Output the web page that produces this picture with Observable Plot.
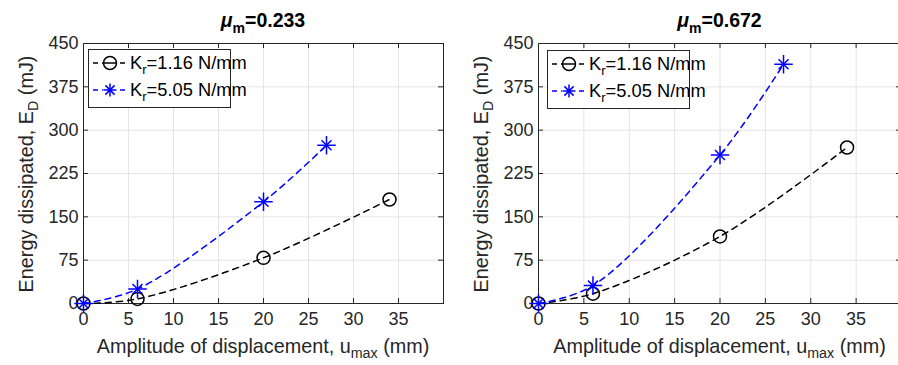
<!DOCTYPE html>
<html>
<head>
<meta charset="utf-8">
<script src="https://cdn.jsdelivr.net/npm/d3@7"></script>
<script src="https://cdn.jsdelivr.net/npm/@observablehq/plot@0.6"></script>
<style>
  html, body { margin: 0; padding: 0; background: #fff; overflow: hidden; }
  #root { position: relative; width: 898px; height: 365px; overflow: hidden; font-family: "Liberation Sans", Arial, sans-serif; color: #262626; }
  .panel { position: absolute; top: 0; height: 365px; }
  .panel svg { position: absolute; left: 0; top: 0; overflow: visible; }
  .title { position: absolute; top: 9px; font-weight: bold; font-size: 19.5px; color: #000; white-space: nowrap; transform: translateX(-50%); }
  .title sub { top: 0.45em; }
  .xlabel { position: absolute; top: 335px; font-size: 19.8px; color: #262626; white-space: nowrap; transform: translateX(-50%); }
  .ylabel { position: absolute; font-size: 19.8px; color: #262626; white-space: nowrap; transform: translate(-50%, -50%) rotate(-90deg); }
  sub { font-size: 0.72em; position: relative; top: 0.35em; vertical-align: baseline; }
  .legend { position: absolute; background: #fff; border: 1px solid #262626; font-size: 18.3px; color: #000; box-sizing: border-box; }
  .legend .row { position: absolute; left: 3px; height: 24px; display: flex; align-items: center; white-space: nowrap; }
  .legend svg { position: static; margin-right: 2px; }
</style>
</head>
<body>
<div id="root"></div>
<script>
// ---- data ----
const xBlack = [0, 6, 20, 34];          // amplitude (mm), Kr = 1.16 N/mm
const xBlue = [0, 6, 20, 27];           // amplitude (mm), Kr = 5.05 N/mm
const leftBlack = [0, 8, 79, 180];      // mu_m = 0.233, Kr = 1.16
const leftBlue = [0, 25, 176, 274];     // mu_m = 0.233, Kr = 5.05
const rightBlack = [0, 17, 116, 270];   // mu_m = 0.672, Kr = 1.16
const rightBlue = [0, 31, 257, 414];    // mu_m = 0.672, Kr = 5.05
const xTicks = [0, 5, 10, 15, 20, 25, 30, 35];
const yTicks = [0, 75, 150, 225, 300, 375, 450];
const titles = ["0.233", "0.672"];
const legendLabels = ["1.16 N/mm", "5.05 N/mm"];

const BLACK = "#000000", BLUE = "#0000ff", AX = "#262626", GRID = "#e4e4e4";

function makePlot(blackY, blueY, width, marginRight) {
  const black = xBlack.map((x, i) => ({x, y: blackY[i]}));
  const blue = xBlue.map((x, i) => ({x, y: blueY[i]}));
  const H = 365, mt = 43, mb = 62, ml = 83;
  const ih = H - mt - mb, iw = width - ml - marginRight;
  return Plot.plot({
    width, height: H,
    marginTop: mt, marginBottom: mb, marginLeft: ml, marginRight,
    style: {fontFamily: "Liberation Sans, Arial, sans-serif", fontSize: "18px", color: AX, background: "transparent", overflow: "visible"},
    x: {domain: [0, 40]},
    y: {domain: [0, 450]},
    marks: [
      Plot.ruleX(xTicks.filter(d => d > 0), {stroke: GRID, strokeWidth: 1}),
      Plot.ruleY(yTicks.filter(d => d > 0), {stroke: GRID, strokeWidth: 1}),
      Plot.tickX(xTicks, {x: d => d, insetTop: ih - 5, stroke: AX}),
      Plot.tickX(xTicks, {x: d => d, insetBottom: ih - 5, stroke: AX}),
      Plot.tickY(yTicks, {y: d => d, insetRight: iw - 5, stroke: AX}),
      Plot.tickY(yTicks, {y: d => d, insetLeft: iw - 5, stroke: AX}),
      Plot.frame({stroke: AX, strokeWidth: 1}),
      Plot.axisX(xTicks, {tickSize: 0, tickPadding: 9, fill: AX, label: null, fontSize: 18}),
      Plot.axisY(yTicks, {tickSize: 0, tickPadding: 5, fill: AX, label: null, fontSize: 18}),
      Plot.line(black, {x: "x", y: "y", stroke: BLACK, strokeWidth: 1.5, strokeDasharray: "6,5", curve: "catmull-rom"}),
      Plot.dot(black, {x: "x", y: "y", r: 6.5, stroke: BLACK, strokeWidth: 1.5, fill: "none"}),
      Plot.line(blue, {x: "x", y: "y", stroke: BLUE, strokeWidth: 1.5, strokeDasharray: "6,5", curve: "catmull-rom"}),
      Plot.dot(blue, {x: "x", y: "y", r: 6, symbol: "plus", stroke: BLUE, strokeWidth: 1.5}),
      Plot.dot(blue, {x: "x", y: "y", r: 4.6, symbol: "times", stroke: BLUE, strokeWidth: 1.5})
    ]
  });
}

function legendSwatch(color, kind) {
  const ns = "http://www.w3.org/2000/svg";
  const s = document.createElementNS(ns, "svg");
  s.setAttribute("width", 36); s.setAttribute("height", 20);
  let html = `<line x1="1" x2="35" y1="10" y2="10" stroke="${color}" stroke-width="1.5" stroke-dasharray="5,4"/>`;
  html += `<rect x="11" y="2" width="14" height="16" fill="#fff"/>`;
  if (kind === "circle") {
    html += `<circle cx="18" cy="10" r="6.5" fill="none" stroke="${color}" stroke-width="1.5"/>`;
    html += `<line x1="11" x2="25" y1="10" y2="10" stroke="${color}" stroke-width="1.5"/>`;
  } else {
    html += `<path d="M18,3.5V16.5M11.5,10H24.5M13.4,5.4L22.6,14.6M22.6,5.4L13.4,14.6" stroke="${color}" stroke-width="1.5"/>`;
  }
  s.innerHTML = html;
  return s;
}

const root = document.getElementById("root");
const panels = [
  {ox: 0, width: 449, mr: 6, black: leftBlack, blue: leftBlue, legendLeft: 88, legendTop: 49},
  {ox: 455, width: 460, mr: 14, black: rightBlack, blue: rightBlue, legendLeft: 92, legendTop: 50}
];
panels.forEach((p, i) => {
  const div = document.createElement("div");
  div.className = "panel";
  div.style.left = p.ox + "px";
  div.style.width = p.width + "px";
  root.appendChild(div);
  div.appendChild(makePlot(p.black, p.blue, p.width, p.mr));
  const cx = 83 + (p.width - 83 - p.mr) / 2;

  const t = document.createElement("div");
  t.className = "title";
  t.style.left = cx + "px";
  t.innerHTML = `<i>μ</i><sub>m</sub>=${titles[i]}`;
  div.appendChild(t);

  const xl = document.createElement("div");
  xl.className = "xlabel";
  xl.style.left = cx + "px";
  xl.innerHTML = `Amplitude of displacement, u<sub>max</sub> (mm)`;
  div.appendChild(xl);

  const yl = document.createElement("div");
  yl.className = "ylabel";
  yl.style.left = "26px";
  yl.style.top = "174px";
  yl.innerHTML = `Energy dissipated, E<sub>D</sub> (mJ)`;
  div.appendChild(yl);

  const lg = document.createElement("div");
  lg.className = "legend";
  lg.style.left = p.legendLeft + "px";
  lg.style.top = p.legendTop + "px";
  lg.style.width = "143px";
  lg.style.height = "59px";
  [[BLACK, "circle", legendLabels[0]], [BLUE, "star", legendLabels[1]]].forEach(([c, k, lab], j) => {
    const row = document.createElement("div");
    row.className = "row";
    row.style.top = (1 + j * 27) + "px";
    row.appendChild(legendSwatch(c, k));
    const sp = document.createElement("span");
    sp.innerHTML = `K<sub>r</sub>=${lab}`;
    row.appendChild(sp);
    lg.appendChild(row);
  });
  div.appendChild(lg);
});
</script>
</body>
</html>
